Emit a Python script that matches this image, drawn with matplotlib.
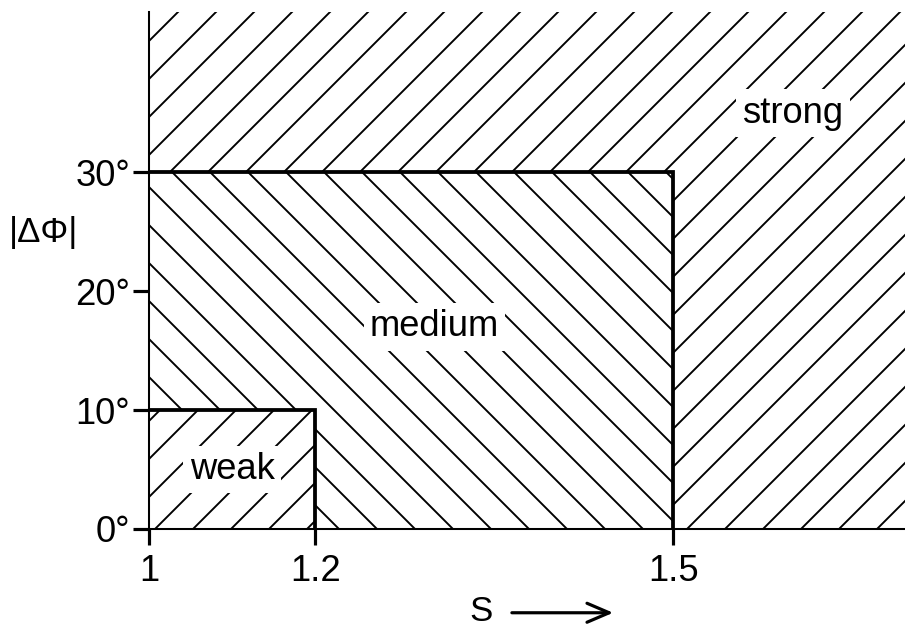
import numpy as np
import matplotlib
matplotlib.use('Agg')
import matplotlib.pyplot as plt
from matplotlib.patches import Rectangle

# region limits
s_edges = [1.0, 1.2, 1.5]      # S limits: start, weak, medium
phi_edges = [10, 30]           # |dPhi| limits (deg): weak, medium
s_max = 1.694
phi_max = 43.5

region_names = ['weak', 'medium', 'strong']
label_s = [1.1, 1.3, 1.6]
label_phi = [5, 17, 35]

x_ticks = [1.0, 1.2, 1.5]
x_ticklabels = ['1', '1.2', '1.5']
y_ticks = [0, 10, 20, 30]
y_ticklabels = ['0°', '10°', '20°', '30°']

DPI = 228
plt.rcParams['font.family'] = ['Liberation Sans', 'DejaVu Sans']
plt.rcParams['hatch.linewidth'] = 0.6
plt.rcParams['hatch.color'] = 'black'

fig = plt.figure(figsize=(905 / DPI, 629 / DPI), dpi=DPI)
ax = fig.add_axes([149 / 905, 100 / 629, 756 / 905, 517 / 629])

# the S axis of the sketch is not linear: 1..1.2 is squeezed
ks = [1.0, 1.2, 2.0]
kp = [1.2 - 0.2 * 0.696, 1.2, 2.0]
ax.set_xscale('function', functions=(lambda s: np.interp(s, ks, kp),
                                     lambda p: np.interp(p, kp, ks)))
ax.set_xlim(s_edges[0], s_max)
ax.set_ylim(0, phi_max)

# strong everywhere, medium and weak layered on top
ax.add_patch(Rectangle((s_edges[0], 0), s_max - s_edges[0], phi_max,
                       facecolor='white', edgecolor='black', lw=0, hatch='//'))
ax.add_patch(Rectangle((s_edges[0], 0), s_edges[2] - s_edges[0], phi_edges[1],
                       facecolor='white', edgecolor='black', lw=0, hatch='\\\\'))
ax.add_patch(Rectangle((s_edges[0], 0), s_edges[1] - s_edges[0], phi_edges[0],
                       facecolor='white', edgecolor='black', lw=0, hatch='//'))

# borders
ax.plot([s_edges[0], s_edges[2], s_edges[2]], [phi_edges[1], phi_edges[1], 0],
        color='black', lw=1.2, solid_joinstyle='miter', zorder=3)
ax.plot([s_edges[0], s_edges[1], s_edges[1]], [phi_edges[0], phi_edges[0], 0],
        color='black', lw=1.2, solid_joinstyle='miter', zorder=3)

for name, s, p in zip(region_names, label_s, label_phi):
    ax.text(s, p, name, ha='center', va='center', fontsize=11.5, zorder=4,
            bbox=dict(facecolor='white', edgecolor='none', pad=2))

for side in ['top', 'right']:
    ax.spines[side].set_visible(False)
for side in ['left', 'bottom']:
    ax.spines[side].set_linewidth(0.65)
    ax.spines[side].set_zorder(5)

ax.set_xticks(x_ticks, x_ticklabels)
ax.set_yticks(y_ticks, y_ticklabels)
ax.xaxis.set_minor_locator(matplotlib.ticker.NullLocator())
ax.tick_params(direction='out', length=5, width=1, labelsize=11.5)
ax.tick_params(axis='y', pad=1)
ax.tick_params(axis='x', pad=3)

ax.set_ylabel('|ΔΦ|', rotation=0, fontsize=11, ha='center', va='center')
ax.yaxis.set_label_coords(-0.139, 0.574)

ax.text(0.439, -0.160, 'S', transform=ax.transAxes, ha='center', va='center',
        fontsize=11)
ax.annotate('', xy=(0.614, -0.162), xytext=(0.480, -0.162),
            xycoords='axes fraction', textcoords='axes fraction',
            arrowprops=dict(arrowstyle='->, head_length=0.7, head_width=0.3',
                            lw=1, color='black', shrinkA=0, shrinkB=0))

fig.savefig('out.png', dpi=DPI)
